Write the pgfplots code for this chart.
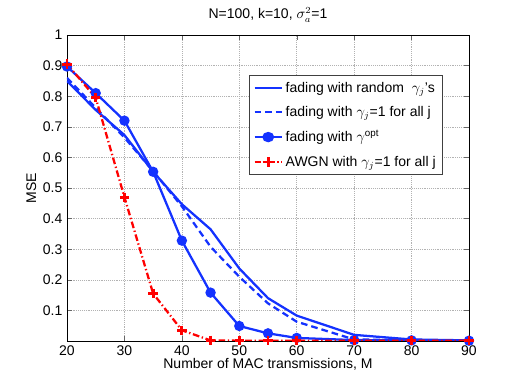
\documentclass[border=0pt]{standalone}
\usepackage{pgfplots}
\pgfplotsset{compat=1.18}
\usepackage{fontspec}
\setmainfont{Liberation Sans}
\definecolor{mblue}{RGB}{20,50,255}
\definecolor{mred}{RGB}{255,0,0}
\begin{document}
\begin{tikzpicture}
\useasboundingbox (-50.25pt,-32.25pt) rectangle (338.25pt,255.75pt);
\begin{axis}[
  at={(0,0)}, anchor=south west,
  scale only axis,
  width=301.5pt, height=229.5pt,
  xmin=20, xmax=90, ymin=0, ymax=1,
  xtick={20,30,...,90},
  ytick={0.1,0.2,0.3,0.4,0.5,0.6,0.7,0.8,0.9,1},
  yticklabels={0.1,0.2,0.3,0.4,0.5,0.6,0.7,0.8,0.9,1},
  tick align=inside,
  tick style={black!60},
  major tick length=4pt,
  grid=major,
  grid style={densely dotted, black!30},
  axis line style={black, line width=0.5pt},
  every tick label/.style={font=\fontsize{10.5}{12.5}\selectfont},
  /pgf/number format/assume math mode=true,
  label style={font=\fontsize{10.5}{12.5}\selectfont},
  xlabel={Number of MAC transmissions, M},
  ylabel={MSE},
  xlabel style={yshift=5pt},
  ylabel style={yshift=-2pt},
  title={N=100, k=10, $\sigma_a^2$=1},
  title style={font=\fontsize{10.5}{12.5}\selectfont, yshift=0pt},
  legend style={at={(0.935,0.870)}, anchor=north east, font=\fontsize{10.5}{12.5}\selectfont,
    draw=black!75, line width=0.8pt, row sep=5pt, inner sep=3pt},
  legend cell align=left,
  legend image post style={xscale=1.2},
]
\addplot[mblue, line width=1.7pt] coordinates {
  (20,0.850) (25,0.755) (30,0.673) (35,0.553) (40,0.447) (45,0.365)
  (50,0.237) (55,0.140) (60,0.083) (70,0.020) (80,0.005) (90,0.002)};
\addplot[mblue, line width=1.7pt, dash pattern=on 5pt off 3pt] coordinates {
  (20,0.860) (25,0.762) (30,0.665) (35,0.555) (40,0.440) (45,0.308)
  (50,0.210) (55,0.123) (60,0.063) (70,0.005) (80,0.003) (90,0.002)};
\addplot[mblue, line width=1.7pt, mark=*, mark size=3pt] coordinates {
  (20,0.897) (25,0.810) (30,0.720) (35,0.553) (40,0.328) (45,0.158)
  (50,0.049) (55,0.025) (60,0.010) (70,0.003) (80,0.002) (90,0.001)};
\addplot[mred, line width=1.7pt, dash pattern=on 5pt off 2pt on 1pt off 2pt,
  mark=+, mark size=3.5pt, mark options={solid, line width=2.2pt}] coordinates {
  (20,0.905) (25,0.795) (30,0.470) (35,0.155) (40,0.035) (45,0.002)
  (50,0.001) (55,0.001) (60,0.001) (70,0.001) (80,0.001) (90,0.001)};
\legend{fading with random\ \ $\gamma_j$'s, fading with $\gamma_j$=1 for all j,
  fading with $\gamma^{\mathrm{opt}}$, AWGN with $\gamma_j$=1 for all j}
\end{axis}
\end{tikzpicture}
\end{document}
